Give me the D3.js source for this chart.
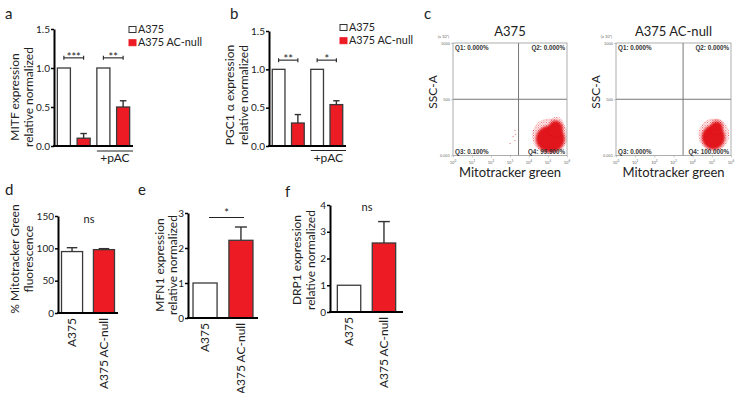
<!DOCTYPE html>
<html><head><meta charset="utf-8">
<script src="https://cdn.jsdelivr.net/npm/d3@7"></script>
<style>
body{margin:0;background:#fff;}
svg{display:block;font-family:Lato,"Open Sans",sans-serif;}
</style></head><body>
<svg id="c" width="738" height="393"></svg>
<script>
// ---------------- data ----------------
const seriesNames = ["A375", "A375 AC-null"];
const seriesColors = ["#ffffff", "#ed1c24"];

// panel a: MITF
const mitfCats = ["A375", "A375 AC-null", "A375 +pAC", "A375 AC-null +pAC"];
const mitfValues = [1.0, 0.10, 1.0, 0.50];
const mitfErrors = [0, 0.06, 0, 0.08];
const mitfStars = ["***", "**"];
// panel b: PGC1a
const pgcValues = [1.0, 0.30, 1.0, 0.54];
const pgcErrors = [0, 0.11, 0, 0.05];
const pgcStars = ["**", "*"];
const ticks15 = [0, 0.5, 1.0, 1.5];
// panel d
const twoCats = ["A375", "A375 AC-null"];
const mitoValues = [95, 98];
const mitoErrors = [6, 1.5];
const mitoTicks = [0, 50, 100, 150];
// panel e
const mfn1Values = [1, 2.22];
const mfn1Errors = [0, 0.38];
const mfn1Ticks = [0, 1, 2, 3];
// panel f
const drp1Values = [1, 2.58];
const drp1Errors = [0, 0.80];
const drp1Ticks = [0, 1, 2, 3, 4];

// panel c: flow cytometry
const flowTitles = ["A375", "A375 AC-null"];
const flowQuadrants = [
  ["Q1: 0.000%", "Q2: 0.000%", "Q3: 0.100%", "Q4: 99.900%"],
  ["Q1: 0.000%", "Q2: 0.000%", "Q3: 0.000%", "Q4: 100.000%"]
];
const flowYTicks = [0.001, 500, 1000];
const flowXExponents = [0, 1, 2, 3, 4, 5, 6];
const flowGateX = [3.45, 3.5];   // log10 position of vertical gate
const flowGateY = 500;
// density blobs of the scatter cloud: [log10 x, SSC (x10^3), rx (decades), ry (SSC)]
const haloA375 = [[5.1, 175, 0.95, 155], [5.45, 255, 0.42, 90]];
const coreA375 = [[5.12, 148, 0.76, 118], [5.4, 238, 0.37, 72]];
const strayA375 = [[3.26, 222], [3.16, 169], [3.26, 134], [3.0, 107], [3.3, 190]];
const haloNull = [[5.1, 185, 0.80, 145], [5.27, 265, 0.36, 65]];
const coreNull = [[5.08, 162, 0.60, 108], [5.25, 245, 0.31, 58]];
const strayNull = [];

// ---------------- drawing ----------------
const svg = d3.select("#c");
const defs = svg.append("defs");
const pat = defs.append("pattern").attr("id", "speck").attr("width", 2.6).attr("height", 2.6)
  .attr("patternUnits", "userSpaceOnUse");
pat.append("rect").attr("width", 0.9).attr("height", 0.9).attr("fill", "#e3151c");
pat.append("rect").attr("x", 1.3).attr("y", 1.3).attr("width", 0.9).attr("height", 0.9).attr("fill", "#e3151c");
defs.append("filter").attr("id", "soft").attr("x", "-20%").attr("y", "-20%").attr("width", "140%").attr("height", "140%")
  .append("feGaussianBlur").attr("stdDeviation", 0.9);

const ink = "#222";

function panelLetter(t, x, y) {
  svg.append("text").attr("x", x).attr("y", y).attr("font-size", 15).attr("fill", ink).text(t);
}

function yLabel(lines, x, y, gap) {
  lines.forEach((l, i) => {
    svg.append("text").attr("transform", `translate(${x + i * gap},${y}) rotate(-90)`)
      .attr("text-anchor", "middle").attr("dy", "0.35em").attr("font-size", 12).attr("fill", ink).text(l);
  });
}

function barPanel(cfg) {
  const g = svg.append("g");
  const y = d3.scaleLinear().domain(cfg.domain).range([cfg.y0, cfg.y1]);
  const x = d3.scaleBand().domain(cfg.cats).range([cfg.x0, cfg.x1])
    .paddingInner(cfg.pi).paddingOuter(cfg.po);
  const bw = x.bandwidth();
  g.selectAll("rect.bar").data(cfg.values).join("rect").attr("class", "bar")
    .attr("x", (d, i) => x(cfg.cats[i])).attr("width", bw)
    .attr("y", d => y(d)).attr("height", d => y(0) - y(d))
    .attr("fill", (d, i) => cfg.colors[i]).attr("stroke", "#3a3a3a").attr("stroke-width", 1.3);
  cfg.values.forEach((v, i) => {
    const e = cfg.errors[i];
    if (!e) return;
    const cx = x(cfg.cats[i]) + bw / 2;
    g.append("line").attr("x1", cx).attr("x2", cx).attr("y1", y(v)).attr("y2", y(v + e))
      .attr("stroke", "#333").attr("stroke-width", 1.4);
    g.append("line").attr("x1", cx - bw / 4).attr("x2", cx + bw / 4).attr("y1", y(v + e)).attr("y2", y(v + e))
      .attr("stroke", "#333").attr("stroke-width", 1.4);
  });
  const ax = d3.axisLeft(y).tickValues(cfg.ticks).tickFormat(cfg.fmt).tickSize(3).tickSizeOuter(0).tickPadding(1);
  const ag = g.append("g").attr("transform", `translate(${cfg.x0},0)`).call(ax);
  ag.select(".domain").attr("stroke", "#000").attr("stroke-width", 2);
  ag.selectAll(".tick line").attr("stroke", "#000").attr("stroke-width", 1.5);
  ag.selectAll(".tick text").attr("font-size", 10).attr("fill", ink).attr("font-family", "Lato");
  g.append("line").attr("x1", cfg.x0 - 1).attr("x2", cfg.x1).attr("y1", y(0)).attr("y2", y(0))
    .attr("stroke", "#000").attr("stroke-width", 2);
  if (cfg.rotLabels) {
    cfg.cats.forEach(c => {
      g.append("text").attr("transform", `translate(${x(c) + bw / 2},${y(0) + 5}) rotate(-90)`)
        .attr("text-anchor", "end").attr("dy", "0.35em").attr("font-size", 12).attr("fill", ink).text(c);
    });
  }
  return { x, y, g, bw };
}

function bracket(p, i1, i2, yv, label, ends) {
  const xa = p.x(p.x.domain()[i1]) + p.bw / 2, xb = p.x(p.x.domain()[i2]) + p.bw / 2;
  const yy = p.y(yv);
  p.g.append("line").attr("x1", xa).attr("x2", xb).attr("y1", yy).attr("y2", yy)
    .attr("stroke", "#222").attr("stroke-width", 1.1);
  if (ends) {
    [xa, xb].forEach(xx => p.g.append("line").attr("x1", xx).attr("x2", xx).attr("y1", yy - 2).attr("y2", yy + 2)
      .attr("stroke", "#222").attr("stroke-width", 1.1));
  }
  p.g.append("text").attr("x", (xa + xb) / 2).attr("y", yy + 3).attr("text-anchor", "middle")
    .attr("font-size", 11).attr("fill", ink).text(label);
}

function legend(x, y, dy) {
  seriesNames.forEach((n, i) => {
    svg.append("rect").attr("x", x).attr("y", y + i * dy - 6.5).attr("width", 7).attr("height", 6)
      .attr("fill", seriesColors[i]).attr("stroke", i === 0 ? "#333" : seriesColors[i]).attr("stroke-width", 1);
    svg.append("text").attr("x", x + 9).attr("y", y + i * dy).attr("font-size", 10.8).attr("fill", ink).text(n);
  });
}

function pacLabel(p, yv) {
  const xa = p.x(p.x.domain()[2]), xb = p.x.range()[1];
  p.g.append("line").attr("x1", xa).attr("x2", xb).attr("y1", yv).attr("y2", yv).attr("stroke", "#222").attr("stroke-width", 1.1);
  p.g.append("text").attr("x", (xa + xb) / 2).attr("y", yv + 11).attr("text-anchor", "middle")
    .attr("font-size", 12).attr("fill", ink).text("+pAC");
}

const fmt1 = d3.format(".1f"), fmt0 = d3.format("d");

// ---- a ----
panelLetter("a", 5, 19);
const pa = barPanel({ cats: mitfCats, values: mitfValues, errors: mitfErrors, colors: [0, 1, 0, 1].map(i => seriesColors[i]),
  domain: [0, 1.5], ticks: ticks15, fmt: fmt1, x0: 54, x1: 133, y0: 146, y1: 29, pi: 0.34, po: 0.17 });
bracket(pa, 0, 1, 1.13, mitfStars[0], true);
bracket(pa, 2, 3, 1.13, mitfStars[1], true);
pacLabel(pa, 151);
yLabel(["MITF expression", "relative normalized"], 15, 97, 14);
legend(129, 33, 13.2);

// ---- b ----
panelLetter("b", 230, 19);
const pb = barPanel({ cats: mitfCats, values: pgcValues, errors: pgcErrors, colors: [0, 1, 0, 1].map(i => seriesColors[i]),
  domain: [0, 1.5], ticks: ticks15, fmt: fmt1, x0: 269, x1: 346, y0: 146, y1: 31, pi: 0.34, po: 0.17 });
bracket(pb, 0, 1, 1.12, pgcStars[0], true);
bracket(pb, 2, 3, 1.12, pgcStars[1], true);
pacLabel(pb, 150.5);
yLabel(["PGC1 \u03b1 expression", "relative normalized"], 230, 95, 14);
legend(340, 31, 13.2);

// ---- d ----
panelLetter("d", 5, 195);
const pd = barPanel({ cats: twoCats, values: mitoValues, errors: mitoErrors, colors: seriesColors,
  domain: [0, 150], ticks: mitoTicks, fmt: fmt0, x0: 58, x1: 118, y0: 313, y1: 216, pi: 0.34, po: 0.11, rotLabels: true });
pd.g.append("text").attr("x", 89).attr("y", 223).attr("text-anchor", "middle").attr("font-size", 11).attr("fill", ink).text("ns");
yLabel(["% Mitotracker Green", "fluorescence"], 15, 259, 14);

// ---- e ----
panelLetter("e", 138, 195);
const pe = barPanel({ cats: twoCats, values: mfn1Values, errors: mfn1Errors, colors: seriesColors,
  domain: [0, 3], ticks: mfn1Ticks, fmt: fmt0, x0: 188, x1: 258, y0: 318, y1: 213, pi: 0.33, po: 0.14, rotLabels: true });
pe.g.append("line").attr("x1", 209).attr("x2", 244).attr("y1", pe.y(2.87)).attr("y2", pe.y(2.87)).attr("stroke", "#222").attr("stroke-width", 1.1);
pe.g.append("text").attr("x", 226.5).attr("y", pe.y(2.87) - 1).attr("text-anchor", "middle").attr("font-size", 11).attr("fill", ink).text("*");
yLabel(["MFN1 expression", "relative normalized"], 160, 265, 13);

// ---- f ----
panelLetter("f", 285, 197);
const pf = barPanel({ cats: twoCats, values: drp1Values, errors: drp1Errors, colors: seriesColors,
  domain: [0, 4], ticks: drp1Ticks, fmt: fmt0, x0: 330, x1: 403, y0: 312, y1: 205, pi: 0.33, po: 0.21, rotLabels: true });
pf.g.append("text").attr("x", 367).attr("y", 211).attr("text-anchor", "middle").attr("font-size", 11).attr("fill", ink).text("ns");
yLabel(["DRP1 expression", "relative normalized"], 297, 260, 14);

// ---- c: flow plots ----
panelLetter("c", 424, 19);
function flowPlot(k, left, right, top, bottom, halo, core, stray) {
  const g = svg.append("g");
  const x = d3.scaleLinear().domain([0, 6]).range([left, right]);
  const y = d3.scaleLinear().domain([0, 1000]).range([bottom, top]);
  const cid = "clip" + k;
  defs.append("clipPath").attr("id", cid).append("rect").attr("x", left).attr("y", top)
    .attr("width", right - left).attr("height", bottom - top);
  const cg = g.append("g").attr("clip-path", `url(#${cid})`);
  cg.selectAll("ellipse.halo").data(halo).join("ellipse")
    .attr("cx", d => x(d[0])).attr("cy", d => y(d[1]))
    .attr("rx", d => x(d[2]) - x(0)).attr("ry", d => y(0) - y(d[3]))
    .attr("fill", "url(#speck)").attr("opacity", 0.85);
  cg.selectAll("ellipse.core").data(core).join("ellipse")
    .attr("cx", d => x(d[0])).attr("cy", d => y(d[1]))
    .attr("rx", d => x(d[2]) - x(0)).attr("ry", d => y(0) - y(d[3]))
    .attr("fill", "#e0121a").attr("filter", "url(#soft)");
  cg.selectAll("circle").data(stray).join("circle")
    .attr("cx", d => x(d[0])).attr("cy", d => y(d[1])).attr("r", 0.5).attr("fill", "#e8404a");
  g.append("line").attr("x1", x(flowGateX[k])).attr("x2", x(flowGateX[k])).attr("y1", top).attr("y2", bottom)
    .attr("stroke", "#777").attr("stroke-width", 1);
  g.append("line").attr("x1", left).attr("x2", right).attr("y1", y(flowGateY)).attr("y2", y(flowGateY))
    .attr("stroke", "#777").attr("stroke-width", 1);
  g.append("rect").attr("x", left).attr("y", top).attr("width", right - left).attr("height", bottom - top)
    .attr("fill", "none").attr("stroke", "#999").attr("stroke-width", 0.8);
  const ya = d3.axisLeft(y).tickValues(flowYTicks).tickFormat(d => d === 0.001 ? "0.001" : d3.format("d")(d)).tickSize(2).tickSizeOuter(0).tickPadding(1);
  const yg = g.append("g").attr("transform", `translate(${left},0)`).call(ya);
  yg.select(".domain").remove();
  yg.selectAll(".tick line").attr("stroke", "#999").attr("stroke-width", 0.5);
  yg.selectAll(".tick text").attr("font-size", 4).attr("fill", "#666");
  g.append("text").attr("x", left - 4).attr("y", top - 5).attr("text-anchor", "end").attr("font-size", 4).attr("fill", "#666").text("(x 10\u00b3)");
  const xa = d3.axisBottom(x).tickValues(flowXExponents).tickFormat("").tickSize(2).tickSizeOuter(0);
  const xg = g.append("g").attr("transform", `translate(0,${bottom})`).call(xa);
  xg.select(".domain").remove();
  xg.selectAll(".tick line").attr("stroke", "#999").attr("stroke-width", 0.5);
  flowXExponents.forEach(e => {
    const t = g.append("text").attr("x", x(e)).attr("y", bottom + 8).attr("text-anchor", "middle").attr("font-size", 4).attr("fill", "#666");
    t.append("tspan").text("10");
    t.append("tspan").attr("dy", -1.5).attr("font-size", 3).text(e);
  });
  const q = flowQuadrants[k];
  const qs = { "font-size": 6.3, "font-weight": "bold", fill: "#333", "font-family": "Liberation Sans, Arial, sans-serif" };
  const qt = (txt, xx, yy, anchor) => {
    const t = g.append("text").attr("x", xx).attr("y", yy).attr("text-anchor", anchor).text(txt);
    Object.entries(qs).forEach(([a, v]) => t.attr(a, v));
  };
  qt(q[0], left + 2, top + 6.5, "start");
  qt(q[1], right - 2, top + 6.5, "end");
  qt(q[2], left + 2, bottom - 2, "start");
  qt(q[3], right - 2, bottom - 2, "end");
  g.append("text").attr("x", (left + right) / 2).attr("y", 36).attr("text-anchor", "middle").attr("font-size", 13).attr("fill", ink).text(flowTitles[k]);
  g.append("text").attr("x", (left + right) / 2).attr("y", 177).attr("text-anchor", "middle").attr("font-size", 13).attr("fill", ink).text("Mitotracker green");
  g.append("text").attr("transform", `translate(${left - 20},${92}) rotate(-90)`).attr("text-anchor", "middle")
    .attr("dy", "0.35em").attr("font-size", 12).attr("fill", ink).text("SSC-A");
}
flowPlot(0, 453, 567, 43, 155.5, haloA375, coreA375, strayA375);
flowPlot(1, 616, 731, 43, 155.5, haloNull, coreNull, strayNull);
</script>
</body></html>
